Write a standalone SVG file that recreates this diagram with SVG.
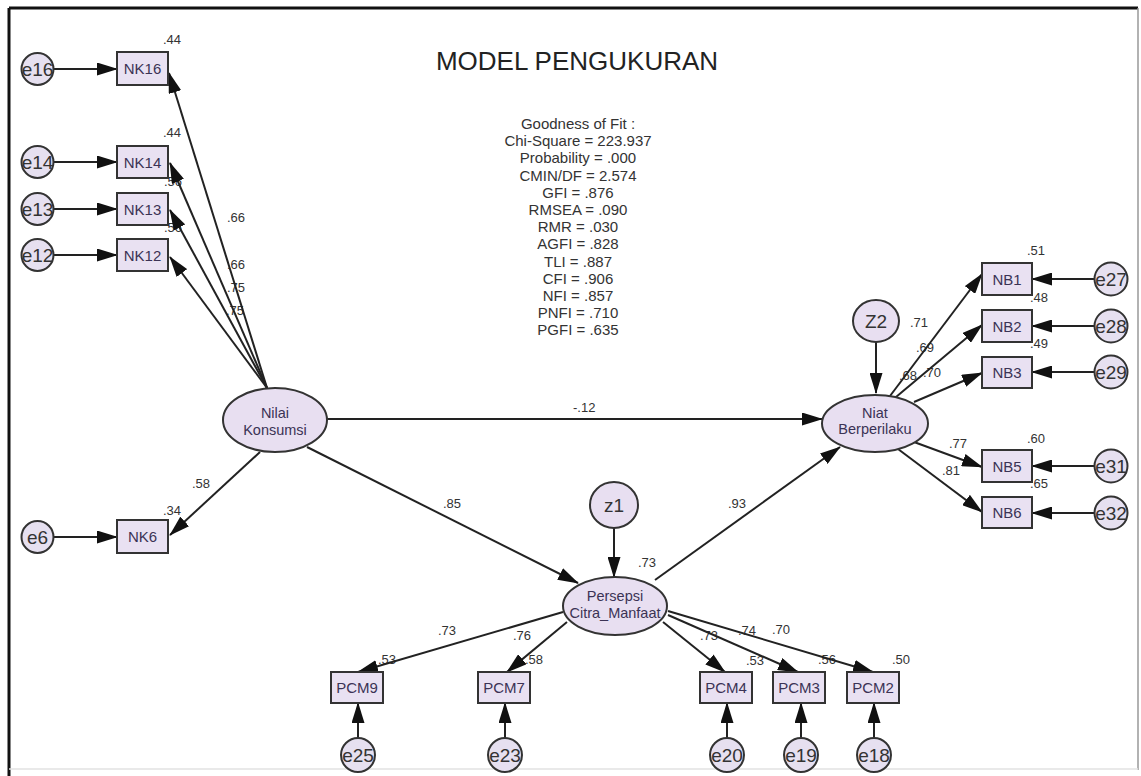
<svg xmlns="http://www.w3.org/2000/svg" width="1141" height="776" viewBox="0 0 1141 776">
<defs>
<marker id="ah" markerUnits="userSpaceOnUse" markerWidth="21" markerHeight="13" refX="20" refY="6.5" orient="auto"><path d="M0,0 L21,6.5 L0,13 z" fill="#111"/></marker>
</defs>
<style>
text{font-family:"Liberation Sans",Arial,sans-serif}
.box{fill:#E9E1F2;stroke:#333;stroke-width:2}
.lat{fill:#E8DFF1;stroke:#333;stroke-width:2}
.err{fill:#E6E0F0;stroke:#333;stroke-width:2}
.nl{font-size:15px;fill:#3b3355;text-anchor:middle}
.ll{font-size:14.5px;fill:#3b3355;text-anchor:middle}
.el{font-size:19px;fill:#333;text-anchor:middle}
.num{font-size:13px;fill:#333}
.fit{font-size:15px;fill:#333;text-anchor:middle}
#connectors line{stroke:#222;stroke-width:2;marker-end:url(#ah)}
</style>
<rect x="0" y="0" width="1141" height="776" fill="#fff"/>
<g id="frame">
<line x1="9" y1="8" x2="1138" y2="8" stroke="#111" stroke-width="3"/>
<line x1="9" y1="8" x2="9" y2="776" stroke="#111" stroke-width="3"/>
<line x1="1138" y1="8" x2="1138" y2="770" stroke="#999" stroke-width="1.5"/>
<line x1="9" y1="769" x2="1138" y2="769" stroke="#e2e2e2" stroke-width="1.5"/>
</g>
<g id="title">
<text x="577" y="70" font-size="26" fill="#222" text-anchor="middle">MODEL PENGUKURAN</text>
</g>
<g id="fit">
<text class="fit" x="578" y="129">Goodness of Fit :</text>
<text class="fit" x="578" y="146.2">Chi-Square = 223.937</text>
<text class="fit" x="578" y="163.4">Probability = .000</text>
<text class="fit" x="578" y="180.6">CMIN/DF = 2.574</text>
<text class="fit" x="578" y="197.8">GFI = .876</text>
<text class="fit" x="578" y="215">RMSEA = .090</text>
<text class="fit" x="578" y="232.2">RMR = .030</text>
<text class="fit" x="578" y="249.4">AGFI = .828</text>
<text class="fit" x="578" y="266.6">TLI = .887</text>
<text class="fit" x="578" y="283.8">CFI = .906</text>
<text class="fit" x="578" y="301">NFI = .857</text>
<text class="fit" x="578" y="318.2">PNFI = .710</text>
<text class="fit" x="578" y="335.4">PGFI = .635</text>
</g>
<g id="labels">
<text class="num" x="163" y="44">.44</text>
<text class="num" x="163" y="137">.44</text>
<text class="num" x="164" y="186">.56</text>
<text class="num" x="164" y="232">.56</text>
<text class="num" x="227" y="222">.66</text>
<text class="num" x="227" y="269">.66</text>
<text class="num" x="227" y="292">.75</text>
<text class="num" x="226" y="315">.75</text>
<text class="num" x="192" y="488">.58</text>
<text class="num" x="163" y="515">.34</text>
<text class="num" x="573" y="412">-.12</text>
<text class="num" x="443" y="508">.85</text>
<text class="num" x="728" y="508">.93</text>
<text class="num" x="638" y="567">.73</text>
<text class="num" x="910" y="327">.71</text>
<text class="num" x="916" y="352">.69</text>
<text class="num" x="899" y="380">.68</text>
<text class="num" x="923" y="377">.70</text>
<text class="num" x="949" y="448">.77</text>
<text class="num" x="942" y="475">.81</text>
<text class="num" x="1027" y="255">.51</text>
<text class="num" x="1030" y="302">.48</text>
<text class="num" x="1030" y="348">.49</text>
<text class="num" x="1027" y="443">.60</text>
<text class="num" x="1030" y="488">.65</text>
<text class="num" x="438" y="635">.73</text>
<text class="num" x="513" y="640">.76</text>
<text class="num" x="378" y="664">.53</text>
<text class="num" x="525" y="664">.58</text>
<text class="num" x="700" y="640">.73</text>
<text class="num" x="738" y="635">.74</text>
<text class="num" x="772" y="634">.70</text>
<text class="num" x="746" y="665">.53</text>
<text class="num" x="818" y="664">.56</text>
<text class="num" x="892" y="664">.50</text>
</g>
<g id="connectors">
<line x1="54" y1="69" x2="117" y2="69"/>
<line x1="54" y1="162" x2="117" y2="162"/>
<line x1="54" y1="209" x2="117" y2="209"/>
<line x1="54" y1="255" x2="117" y2="255"/>
<line x1="54" y1="537" x2="117" y2="537"/>
<line x1="267" y1="388" x2="169" y2="73"/>
<line x1="267" y1="388" x2="170" y2="163"/>
<line x1="267" y1="388" x2="170" y2="210"/>
<line x1="267" y1="388" x2="170" y2="257"/>
<line x1="260" y1="452" x2="170" y2="535"/>
<line x1="327" y1="419" x2="822" y2="419"/>
<line x1="307" y1="447" x2="578" y2="583"/>
<line x1="655" y1="580" x2="840" y2="447"/>
<line x1="876" y1="342" x2="876" y2="393"/>
<line x1="614" y1="528" x2="614" y2="577"/>
<line x1="890" y1="396" x2="982" y2="274"/>
<line x1="896" y1="397" x2="982" y2="325"/>
<line x1="914" y1="402" x2="982" y2="373"/>
<line x1="914" y1="442" x2="982" y2="467"/>
<line x1="898" y1="449" x2="982" y2="512"/>
<line x1="1094" y1="279" x2="1032" y2="279"/>
<line x1="1094" y1="326" x2="1032" y2="326"/>
<line x1="1094" y1="372" x2="1032" y2="372"/>
<line x1="1094" y1="466" x2="1032" y2="466"/>
<line x1="1094" y1="513" x2="1032" y2="513"/>
<line x1="563" y1="612" x2="358" y2="672"/>
<line x1="567" y1="622" x2="507" y2="672"/>
<line x1="663" y1="622" x2="725" y2="672"/>
<line x1="668" y1="615" x2="798" y2="672"/>
<line x1="668" y1="611" x2="873" y2="672"/>
<line x1="358" y1="738" x2="358" y2="703"/>
<line x1="505" y1="738" x2="505" y2="703"/>
<line x1="727" y1="738" x2="727" y2="703"/>
<line x1="801" y1="738" x2="801" y2="703"/>
<line x1="874" y1="738" x2="874" y2="703"/>
</g>
<g id="NK16"><rect class="box" x="117" y="52" width="51" height="33"/><text class="nl" x="142.5" y="74">NK16</text></g>
<g id="NK14"><rect class="box" x="117" y="146" width="51" height="32"/><text class="nl" x="142.5" y="167.5">NK14</text></g>
<g id="NK13"><rect class="box" x="117" y="193" width="51" height="32"/><text class="nl" x="142.5" y="214.5">NK13</text></g>
<g id="NK12"><rect class="box" x="117" y="239" width="51" height="32"/><text class="nl" x="142.5" y="260.5">NK12</text></g>
<g id="NK6"><rect class="box" x="117" y="520" width="51" height="33"/><text class="nl" x="142.5" y="542">NK6</text></g>
<g id="e16"><circle class="err" cx="37.5" cy="69" r="16"/><text class="el" x="37.5" y="76">e16</text></g>
<g id="e14"><circle class="err" cx="37.5" cy="162" r="16"/><text class="el" x="37.5" y="169">e14</text></g>
<g id="e13"><circle class="err" cx="37.5" cy="209" r="16"/><text class="el" x="37.5" y="216">e13</text></g>
<g id="e12"><circle class="err" cx="37.5" cy="255" r="16"/><text class="el" x="37.5" y="262">e12</text></g>
<g id="e6"><circle class="err" cx="37.5" cy="537" r="16"/><text class="el" x="37.5" y="544">e6</text></g>
<g id="NilaiKonsumsi"><ellipse class="lat" cx="275" cy="420" rx="52" ry="32"/><text class="ll" x="275" y="418">Nilai</text><text class="ll" x="275" y="435">Konsumsi</text></g>
<g id="NiatBerperilaku"><ellipse class="lat" cx="875" cy="423.5" rx="53" ry="28.5"/><text class="ll" x="875" y="418">Niat</text><text class="ll" x="875" y="434">Berperilaku</text></g>
<g id="PersepsiCitraManfaat"><ellipse class="lat" cx="615" cy="606" rx="52" ry="29"/><text class="ll" x="615" y="601">Persepsi</text><text class="ll" x="615" y="618">Citra_Manfaat</text></g>
<g id="Z2"><ellipse class="lat" cx="876" cy="321" rx="23" ry="21"/><text class="el" x="876" y="328" font-size="18">Z2</text></g>
<g id="z1"><ellipse class="lat" cx="614" cy="505" rx="24" ry="23"/><text class="el" x="614" y="512" font-size="18">z1</text></g>
<g id="NB1"><rect class="box" x="982" y="263" width="50" height="32"/><text class="nl" x="1007" y="284.5">NB1</text></g>
<g id="NB2"><rect class="box" x="982" y="310" width="50" height="32"/><text class="nl" x="1007" y="331.5">NB2</text></g>
<g id="NB3"><rect class="box" x="982" y="357" width="50" height="31"/><text class="nl" x="1007" y="378">NB3</text></g>
<g id="NB5"><rect class="box" x="982" y="450" width="50" height="32"/><text class="nl" x="1007" y="471.5">NB5</text></g>
<g id="NB6"><rect class="box" x="982" y="497" width="50" height="31"/><text class="nl" x="1007" y="518">NB6</text></g>
<g id="e27"><circle class="err" cx="1111" cy="279" r="16.5"/><text class="el" x="1111" y="286">e27</text></g>
<g id="e28"><circle class="err" cx="1111" cy="326" r="16.5"/><text class="el" x="1111" y="333">e28</text></g>
<g id="e29"><circle class="err" cx="1111" cy="372" r="16.5"/><text class="el" x="1111" y="379">e29</text></g>
<g id="e31"><circle class="err" cx="1111" cy="466" r="16.5"/><text class="el" x="1111" y="473">e31</text></g>
<g id="e32"><circle class="err" cx="1111" cy="513" r="16.5"/><text class="el" x="1111" y="520">e32</text></g>
<g id="PCM9"><rect class="box" x="331" y="672" width="52" height="31"/><text class="nl" x="357" y="693">PCM9</text></g>
<g id="PCM7"><rect class="box" x="478" y="672" width="52" height="31"/><text class="nl" x="504" y="693">PCM7</text></g>
<g id="PCM4"><rect class="box" x="700" y="672" width="52" height="31"/><text class="nl" x="726" y="693">PCM4</text></g>
<g id="PCM3"><rect class="box" x="773" y="672" width="52" height="31"/><text class="nl" x="799" y="693">PCM3</text></g>
<g id="PCM2"><rect class="box" x="847" y="672" width="52" height="31"/><text class="nl" x="873" y="693">PCM2</text></g>
<g id="e25"><circle class="err" cx="358" cy="755" r="17"/><text class="el" x="358" y="762">e25</text></g>
<g id="e23"><circle class="err" cx="505" cy="755" r="17"/><text class="el" x="505" y="762">e23</text></g>
<g id="e20"><circle class="err" cx="727" cy="755" r="17"/><text class="el" x="727" y="762">e20</text></g>
<g id="e19"><circle class="err" cx="801" cy="755" r="17"/><text class="el" x="801" y="762">e19</text></g>
<g id="e18"><circle class="err" cx="874" cy="755" r="17"/><text class="el" x="874" y="762">e18</text></g>
</svg>
